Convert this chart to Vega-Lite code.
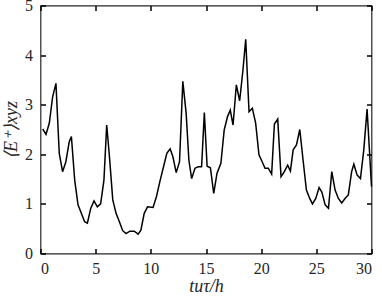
{
  "$schema": "https://vega.github.io/schema/vega-lite/v6.json",
  "width": 331,
  "height": 248,
  "autosize": {"type": "none"},
  "padding": {"left": 40.5, "top": 5.5, "right": 10, "bottom": 48},
  "background": "white",
  "config": {
    "font": "Liberation Serif",
    "view": {"stroke": "#262626", "strokeWidth": 1.2},
    "axis": {
      "grid": false,
      "domain": false,
      "ticks": true,
      "zindex": 1,
      "offset": -5,
      "tickColor": "#000000",
      "tickSize": 5,
      "tickWidth": 1.5,
      "labelFontSize": 16,
      "labelColor": "#262626",
      "titleFontSize": 18,
      "titleFontStyle": "italic",
      "titleFontWeight": "normal",
      "titleColor": "#262626"
    }
  },
  "data": {
    "values": [
      {"t": 0.2, "E": 2.51}, {"t": 0.5, "E": 2.40}, {"t": 0.8, "E": 2.63}, {"t": 1.1, "E": 3.16},
      {"t": 1.4, "E": 3.43}, {"t": 1.7, "E": 2.02}, {"t": 2.0, "E": 1.65}, {"t": 2.3, "E": 1.85},
      {"t": 2.6, "E": 2.25}, {"t": 2.8, "E": 2.36}, {"t": 3.1, "E": 1.48}, {"t": 3.4, "E": 0.98},
      {"t": 3.7, "E": 0.81}, {"t": 4.0, "E": 0.64}, {"t": 4.25, "E": 0.61}, {"t": 4.55, "E": 0.91},
      {"t": 4.85, "E": 1.06}, {"t": 5.15, "E": 0.94}, {"t": 5.45, "E": 1.0}, {"t": 5.75, "E": 1.48},
      {"t": 6.0, "E": 2.59}, {"t": 6.25, "E": 1.95}, {"t": 6.55, "E": 1.08}, {"t": 6.85, "E": 0.81},
      {"t": 7.15, "E": 0.64}, {"t": 7.45, "E": 0.46}, {"t": 7.75, "E": 0.40}, {"t": 8.1, "E": 0.45},
      {"t": 8.5, "E": 0.45}, {"t": 8.85, "E": 0.39}, {"t": 9.1, "E": 0.47}, {"t": 9.4, "E": 0.81},
      {"t": 9.7, "E": 0.94}, {"t": 10.2, "E": 0.93}, {"t": 10.5, "E": 1.14}, {"t": 10.85, "E": 1.48},
      {"t": 11.15, "E": 1.75}, {"t": 11.45, "E": 2.02}, {"t": 11.75, "E": 2.11}, {"t": 12.0, "E": 1.95},
      {"t": 12.3, "E": 1.63}, {"t": 12.6, "E": 1.85}, {"t": 12.9, "E": 3.47}, {"t": 13.2, "E": 2.83},
      {"t": 13.45, "E": 1.88}, {"t": 13.7, "E": 1.51}, {"t": 14.0, "E": 1.72}, {"t": 14.3, "E": 1.75},
      {"t": 14.6, "E": 1.75}, {"t": 14.85, "E": 2.84}, {"t": 15.1, "E": 1.76}, {"t": 15.4, "E": 1.73},
      {"t": 15.7, "E": 1.21}, {"t": 16.0, "E": 1.62}, {"t": 16.35, "E": 1.82}, {"t": 16.65, "E": 2.49},
      {"t": 16.95, "E": 2.76}, {"t": 17.2, "E": 2.89}, {"t": 17.45, "E": 2.59}, {"t": 17.75, "E": 3.40},
      {"t": 18.05, "E": 3.08}, {"t": 18.35, "E": 3.70}, {"t": 18.6, "E": 4.32}, {"t": 18.9, "E": 2.86},
      {"t": 19.2, "E": 2.93}, {"t": 19.5, "E": 2.63}, {"t": 19.8, "E": 1.99}, {"t": 20.05, "E": 1.87},
      {"t": 20.35, "E": 1.72}, {"t": 20.65, "E": 1.72}, {"t": 20.95, "E": 1.60}, {"t": 21.2, "E": 2.61},
      {"t": 21.5, "E": 2.71}, {"t": 21.8, "E": 1.55}, {"t": 22.1, "E": 1.65}, {"t": 22.4, "E": 1.78},
      {"t": 22.65, "E": 1.66}, {"t": 22.9, "E": 2.09}, {"t": 23.2, "E": 2.19}, {"t": 23.5, "E": 2.50},
      {"t": 23.8, "E": 1.88}, {"t": 24.1, "E": 1.28}, {"t": 24.4, "E": 1.11}, {"t": 24.65, "E": 1.0},
      {"t": 24.95, "E": 1.11}, {"t": 25.25, "E": 1.33}, {"t": 25.5, "E": 1.24}, {"t": 25.8, "E": 0.98},
      {"t": 26.1, "E": 0.91}, {"t": 26.4, "E": 1.65}, {"t": 26.7, "E": 1.28}, {"t": 27.0, "E": 1.11},
      {"t": 27.3, "E": 1.02}, {"t": 27.6, "E": 1.11}, {"t": 27.9, "E": 1.18}, {"t": 28.2, "E": 1.65},
      {"t": 28.4, "E": 1.80}, {"t": 28.7, "E": 1.58}, {"t": 29.0, "E": 1.51}, {"t": 29.3, "E": 2.09},
      {"t": 29.6, "E": 2.91}, {"t": 30.0, "E": 1.35}
    ]
  },
  "layer": [
    {
      "mark": {"type": "line", "color": "black", "strokeWidth": 1.5},
      "encoding": {
        "x": {
          "field": "t", "type": "quantitative",
          "scale": {"domain": [0, 30], "nice": false},
          "axis": {"tickCount": 6, "ticks": true, "title": "tuτ/h", "labelPadding": 7, "titlePadding": 1}
        },
        "y": {
          "field": "E", "type": "quantitative",
          "scale": {"domain": [0, 5], "nice": false},
          "axis": {"tickCount": 5, "ticks": true, "title": "⟨E⁺⟩xyz", "labelPadding": 8, "titlePadding": 4}
        }
      }
    },
    {
      "mark": {"type": "line", "opacity": 0},
      "encoding": {
        "x": {
          "field": "t", "type": "quantitative",
          "axis": {"orient": "top", "tickCount": 6, "ticks": true, "labels": false, "title": null}
        },
        "y": {
          "field": "E", "type": "quantitative",
          "axis": {"orient": "right", "tickCount": 5, "ticks": true, "labels": false, "title": null}
        }
      }
    }
  ],
  "resolve": {"axis": {"x": "independent", "y": "independent"}}
}
